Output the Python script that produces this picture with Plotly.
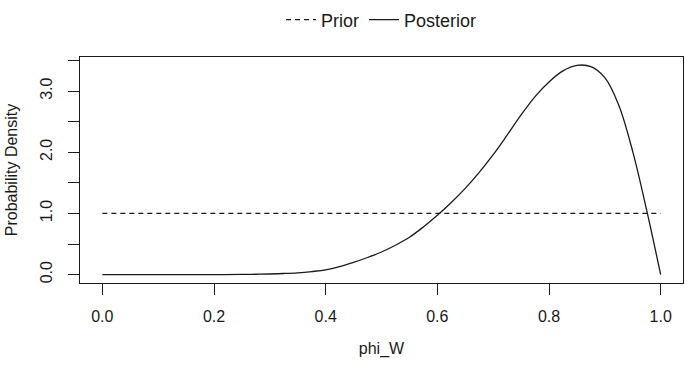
import plotly.graph_objects as go

# Data
phi_grid = [0.0, 0.05, 0.1, 0.15, 0.2, 0.25, 0.275, 0.3, 0.325, 0.35, 0.375, 0.4,
            0.425, 0.45, 0.475, 0.5, 0.525, 0.55, 0.575, 0.6, 0.625, 0.65, 0.675,
            0.7, 0.725, 0.75, 0.775, 0.8, 0.825, 0.85, 0.875, 0.9, 0.925, 0.95,
            0.975, 1.0]
posterior = [0.0, 0.0, 0.0, 0.0, 0.001, 0.003, 0.006, 0.01, 0.018, 0.03, 0.05, 0.077,
             0.13, 0.20, 0.28, 0.37, 0.48, 0.61, 0.78, 0.97, 1.18, 1.41, 1.67,
             1.96, 2.28, 2.61, 2.91, 3.15, 3.33, 3.42, 3.40, 3.22, 2.77, 2.01,
             1.05, 0.0]
prior_x = [0.0, 1.0]
prior_y = [1.0, 1.0]

x_tick_vals = [0.0, 0.2, 0.4, 0.6, 0.8, 1.0]
x_tick_text = ["0.0", "0.2", "0.4", "0.6", "0.8", "1.0"]
y_tick_vals = [0.0, 0.5, 1.0, 1.5, 2.0, 2.5, 3.0, 3.5]
y_tick_text = ["0.0", "", "1.0", "", "2.0", "", "3.0", ""]

ink = "#1a1a1a"
font_family = "Liberation Sans, Arial, Helvetica, sans-serif"

fig = go.Figure()
fig.add_trace(go.Scatter(x=prior_x, y=prior_y, mode="lines", name="Prior",
                         line=dict(color=ink, width=1.2, dash="5px,4px")))
fig.add_trace(go.Scatter(x=phi_grid, y=posterior, mode="lines", name="Posterior",
                         line=dict(color=ink, width=1.3, shape="spline", smoothing=1.0)))

fig.update_layout(
    width=685, height=366,
    margin=dict(l=80, r=2, t=52, b=83),
    paper_bgcolor="white", plot_bgcolor="white",
    font=dict(family=font_family, size=16, color=ink),
    showlegend=True,
    legend=dict(orientation="h", x=0.5, xanchor="center", y=1.164, yanchor="middle",
                font=dict(size=18), itemwidth=30, tracegroupgap=0,
                bgcolor="rgba(0,0,0,0)"),
)
fig.update_xaxes(
    range=[-0.04, 1.04], showgrid=False, zeroline=False,
    showline=True, mirror=True, linecolor=ink, linewidth=1.2,
    ticks="outside", ticklen=11, tickcolor=ink, tickwidth=1,
    tickvals=x_tick_vals, ticktext=x_tick_text, ticklabelstandoff=8,
    title=dict(text="phi_W", standoff=18, font=dict(size=16)),
)
fig.update_yaxes(
    range=[-0.137, 3.557], showgrid=False, zeroline=False,
    showline=True, mirror=True, linecolor=ink, linewidth=1.2,
    ticks="outside", ticklen=11, tickcolor=ink, tickwidth=1,
    tickvals=y_tick_vals, ticktext=y_tick_text, tickangle=-90, ticklabelstandoff=10,
    title=dict(text="Probability Density", standoff=15, font=dict(size=16)),
)

fig.write_html("out.html")
